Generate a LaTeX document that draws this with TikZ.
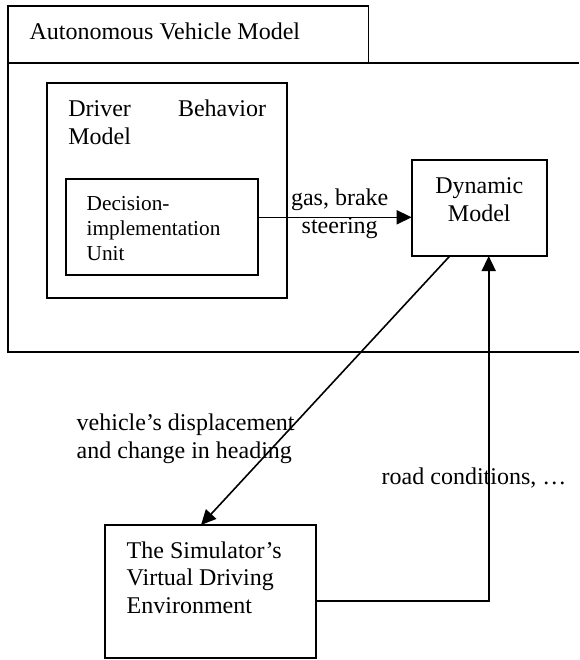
\documentclass[tikz,border=0pt]{standalone}
\usepackage{fontspec}
\setmainfont{Liberation Serif}
\usetikzlibrary{arrows.meta,calc}
\begin{document}
\begin{tikzpicture}[x=1pt,y=-1pt,
  box/.style={draw,line width=1.8pt,rectangle,inner sep=0pt,outer sep=0pt,anchor=north west},
  lbl/.style={inner sep=0pt,outer sep=0pt,font=\fontsize{24}{27.6}\selectfont},
  small/.style={inner sep=0pt,outer sep=0pt,font=\fontsize{21.3}{25}\selectfont},
  arr/.style={line width=1.6pt,-{Triangle[length=15pt,width=14pt]}},
  conn/.style={line width=1.8pt}]
\useasboundingbox (0,0) rectangle (579,660);
% tab and container
\node[box,minimum width=360.5pt,minimum height=57pt] (tab) at (8,6) {};
\coordinate (ctr) at (579,63);
\coordinate (cbr) at (579,352);
\draw[conn] (ctr) -- (tab.south west |- ctr) -- (tab.south west |- cbr) -- (cbr);
\node[lbl,anchor=base west] (tabtext) at (29.5,39.3) {Autonomous Vehicle Model};
% driver behavior model
\node[box,minimum width=240pt,minimum height=215pt] (drv) at (47.3,83.3) {};
\node[lbl,anchor=base west,text width=197.7pt,align=justify] (drvtext) at (68.3,116.5) {Driver Behavior Model};
% decision unit
\node[box,minimum width=192pt,minimum height=96pt] (dec) at (65.7,179.3) {};
\node[small,anchor=base west,align=left] (dectext) at (86.7,260) {Decision-\\implementation\\Unit};
% dynamic model
\node[box,minimum width=135pt,minimum height=96pt] (dyn) at (411.7,160) {};
\node[lbl,anchor=base,align=center] (dyntext) at (479.3,221) {Dynamic\\Model};
% simulator
\node[box,minimum width=210.7pt,minimum height=133.3pt] (sim) at (105,525) {};
\node[lbl,anchor=base west,align=left] (simtext) at (126.7,613.3) {The Simulator’s\\Virtual Driving\\Environment};
% connectors
\draw[arr] (dec.east |- 0,217.3) -- (dyn.west |- 0,217.3);
\node[lbl,anchor=base,align=center] (gas) at (339.7,233.3) {gas, brake\\steering};
\draw[arr] ($(dyn.south west)+(38.1,0)$) -- ($(sim.north west)+(96,0)$);
\node[lbl,anchor=base west,align=left] (veh) at (76.7,458.3) {vehicle’s displacement\\and change in heading};
\draw[arr] (sim.east |- 0,601.2) -| ($(dyn.south west)+(77,0)$);
\node[lbl,anchor=base west] (road) at (381.7,484) {road conditions, …};
\end{tikzpicture}
\end{document}
